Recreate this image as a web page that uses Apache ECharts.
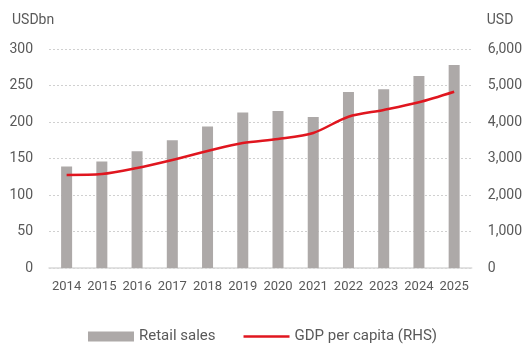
<!DOCTYPE html>
<html>
<head>
<meta charset="utf-8">
<script src="https://cdn.jsdelivr.net/npm/echarts@6/dist/echarts.min.js"></script>
<style>
  html, body { margin: 0; padding: 0; background: #fff; }
  #chart { width: 525px; height: 347px; }
</style>
</head>
<body>
<div id="chart"></div>
<script>
// data
const years = ['2014', '2015', '2016', '2017', '2018', '2019', '2020', '2021', '2022', '2023', '2024', '2025'];
const retailSales = [139, 146, 160, 175, 194, 213, 215, 207, 241, 245, 263, 278];
const gdpPerCapita = [2550, 2575, 2740, 2960, 3205, 3425, 3535, 3700, 4145, 4330, 4540, 4830];

const labelColor = '#595959';
const chart = echarts.init(document.getElementById('chart'));

const option = {
  animation: false,
  textStyle: { fontFamily: 'Roboto, sans-serif' },
  grid: { left: 49, right: 52, top: 49, bottom: 79 },
  legend: {
    bottom: -2,
    left: 'center',
    itemGap: 28,
    itemWidth: 46,
    itemHeight: 10,
    textStyle: { color: labelColor, fontSize: 15 },
    data: [
      { name: 'Retail sales', icon: 'rect' },
      { name: 'GDP per capita (RHS)', icon: 'path://M0,4 L46,4 L46,6.5 L0,6.5 Z' }
    ]
  },
  xAxis: {
    type: 'category',
    data: years,
    axisLine: { lineStyle: { color: '#d9d9d9', width: 1.5 } },
    axisTick: { show: false },
    axisLabel: { color: labelColor, fontSize: 13, margin: 12, interval: 0 }
  },
  yAxis: [
    {
      type: 'value',
      min: 0, max: 300, interval: 50,
      name: 'USDbn',
      nameLocation: 'end',
      nameGap: 22,
      nameTextStyle: { color: labelColor, fontSize: 14, align: 'left', padding: [0, 0, 0, -37] },
      axisLabel: { color: labelColor, fontSize: 14, margin: 16 },
      splitLine: { lineStyle: { color: '#d0d0d0', type: [2, 2] } }
    },
    {
      type: 'value',
      min: 0, max: 6000, interval: 1000,
      name: 'USD',
      nameLocation: 'end',
      nameGap: 22,
      nameTextStyle: { color: labelColor, fontSize: 14, align: 'left', padding: [0, 0, 0, 15] },
      axisLabel: {
        color: labelColor, fontSize: 14, margin: 16,
        formatter: v => v.toLocaleString('en-US')
      },
      splitLine: { show: false }
    }
  ],
  series: [
    {
      name: 'Retail sales',
      type: 'bar',
      data: retailSales,
      barWidth: 11,
      itemStyle: { color: '#ADA9A8' }
    },
    {
      name: 'GDP per capita (RHS)',
      type: 'line',
      yAxisIndex: 1,
      data: gdpPerCapita,
      smooth: 0.3,
      symbol: 'none',
      lineStyle: { color: '#E0161F', width: 2.5 },
      itemStyle: { color: '#E0161F' }
    }
  ]
};

chart.setOption(option);
</script>
</body>
</html>
